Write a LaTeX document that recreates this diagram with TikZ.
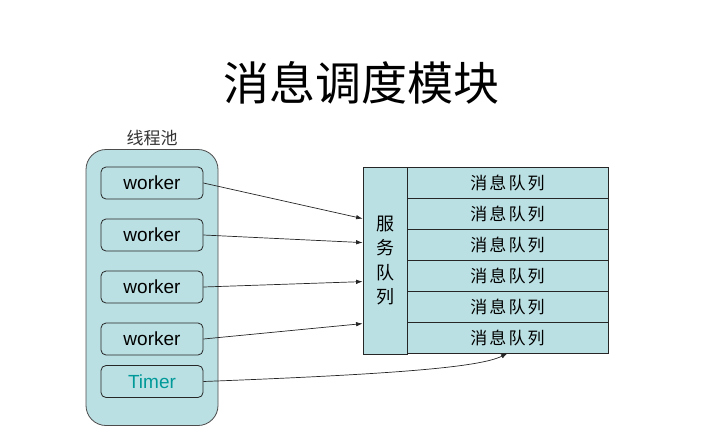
\documentclass[tikz,border=0pt]{standalone}
\usepackage{fontspec}
\setmainfont{Liberation Sans}
\newfontfamily\cjk{Noto Sans CJK SC}
\newfontfamily\cjkwide[LetterSpace=12]{Noto Sans CJK SC}
\usepackage{tikz}
\usetikzlibrary{calc,positioning,arrows.meta}
\definecolor{poolblue}{RGB}{187,224,227}
\definecolor{timerteal}{RGB}{0,153,153}

\begin{document}
\begin{tikzpicture}[x=1pt,y=-1pt,>={Latex[length=6.5pt,width=4.5pt]},line width=0.8pt,
  poolbox/.style={draw=black!70,fill=poolblue,rounded corners=20pt,minimum width=132pt,minimum height=276pt},
  workerbox/.style={draw=black!85,rounded corners=5pt,minimum width=102pt,minimum height=32pt,font=\fontsize{19}{22}\selectfont},
  qbox/.style={draw=black!85,fill=poolblue,minimum width=201pt,minimum height=31pt,font=\cjkwide\fontsize{17}{20}\selectfont},
  link/.style={->,black!85,line width=0.7pt}]
\useasboundingbox (0,0) rectangle (704,445);
% title
\node (title) at (361,83) {\cjk\fontsize{46}{50}\selectfont 消息调度模块};
% thread pool
\node[poolbox] (pool) at (152,287.5) {};
\node[above=0pt of pool,font=\cjk\fontsize{17}{20}\selectfont,black!80] (pooltitle) {线程池};
\node[workerbox] (w1) at (152,183) {worker};
\node[workerbox] (w2) at (152,235) {worker};
\node[workerbox] (w3) at (152,287) {worker};
\node[workerbox] (w4) at (152,339) {worker};
\node[workerbox,text=timerteal] (timer) at (152,381.5) {Timer};
% service queue and message queues
\node[draw=black!85,fill=poolblue,minimum width=44pt,minimum height=187pt,align=center,
      font=\cjk\fontsize{18}{24.5}\selectfont] (svc) at (385,260.5) {服\\务\\队\\列};
\foreach \i in {1,...,6} {
  \node[qbox] (q\i) at (507.5,151.5+31*\i) {消息队列};
}
% connectors
\foreach \w/\dy in {w1/52,w2/76,w3/115,w4/157} {
  \draw[link] (\w.east) -- ($(svc.north west)+(0,\dy)$);
}
\draw[link] (timer.east) .. controls (400,374) and (480,367) .. (q6.south);
\end{tikzpicture}
\end{document}
